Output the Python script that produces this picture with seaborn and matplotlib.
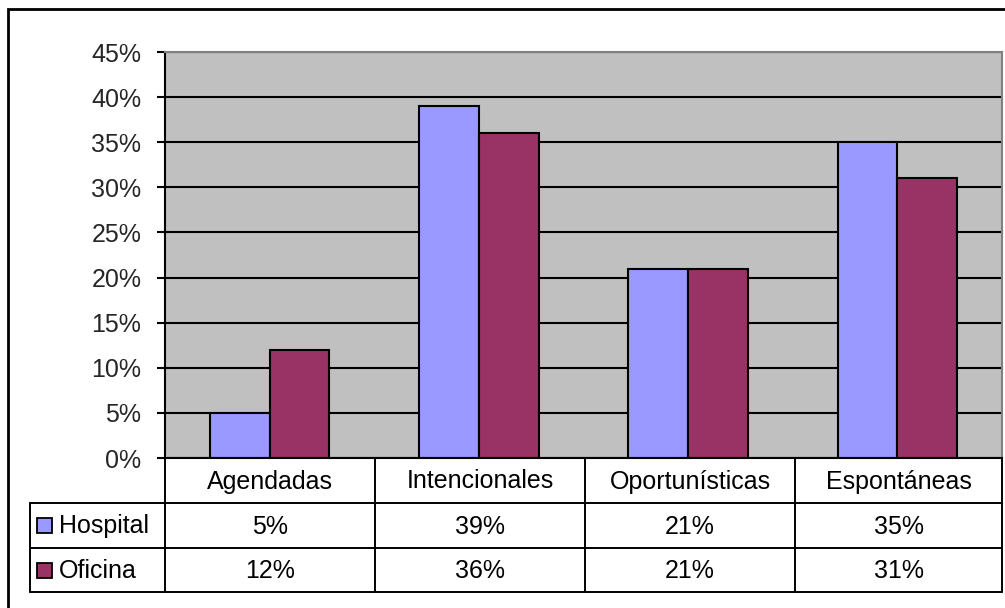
import matplotlib
matplotlib.use("Agg")
import matplotlib.pyplot as plt
import seaborn as sns
import pandas as pd
from matplotlib.lines import Line2D
from matplotlib.patches import Rectangle
from matplotlib.ticker import MultipleLocator, FuncFormatter

categories = ["Agendadas", "Intencionales", "Oportunísticas", "Espontáneas"]
series_names = ["Hospital", "Oficina"]
hospital = [5, 39, 21, 35]
oficina = [12, 36, 21, 31]
colors = ["#9999FF", "#993366"]

sns.set_theme(style="white")
plt.rcParams['font.family'] = ['Liberation Sans', 'DejaVu Sans']

rows = []
for c, h, o in zip(categories, hospital, oficina):
    rows.append({"cat": c, "serie": "Hospital", "val": h})
    rows.append({"cat": c, "serie": "Oficina", "val": o})
df = pd.DataFrame(rows)

W, H = 1005, 608
fig = plt.figure(figsize=(W / 100, H / 100), dpi=100)
fig.patch.set_facecolor("white")

def fx(px):
    return px / W

def fy(py):
    return 1 - py / H

L, R, T, B = 165, 1002, 52, 458
ax = fig.add_axes([fx(L), fy(B), fx(R) - fx(L), fy(T) - fy(B)])
ax.set_facecolor("#C0C0C0")
ax.set_axisbelow(True)

sns.barplot(data=df, x="cat", y="val", hue="serie", order=categories,
            hue_order=series_names, palette=colors, width=0.572,
            edgecolor="black", linewidth=1.5, ax=ax, legend=False, saturation=1)

ax.set_ylim(0, 45)
ax.set_xlim(-0.5, 3.5)
ax.yaxis.set_major_locator(MultipleLocator(5))
ax.yaxis.set_major_formatter(FuncFormatter(lambda v, p: f"{int(round(v))}%"))
ax.yaxis.grid(True, color="black", linewidth=1.5)
ax.xaxis.grid(False)
ax.set_xticks([])
ax.set_xlabel("")
ax.set_ylabel("")
ax.tick_params(axis="y", which="major", direction="out", length=6, width=1.5,
               color="black", labelsize=18, pad=11, left=True)
for s in ["left", "bottom"]:
    ax.spines[s].set_color("black")
    ax.spines[s].set_linewidth(1.5)
for s in ["top", "right"]:
    ax.spines[s].set_color("#808080")
    ax.spines[s].set_linewidth(1.5)

# Outer border (right and bottom sides fall outside the picture)
fig.add_artist(Rectangle((fx(8), fy(640)), fx(1040) - fx(8), fy(9) - fy(640),
                         transform=fig.transFigure, fill=False,
                         edgecolor="black", linewidth=2, clip_on=False))

# Data table
col_edges = [165, 375, 585, 795, 1002]
row_edges = [458, 503, 548, 592]
tleft = 30
lw = 1.4

def hline(x0, x1, y):
    fig.add_artist(Line2D([fx(x0), fx(x1)], [fy(y), fy(y)], transform=fig.transFigure,
                          color="black", linewidth=lw))

def vline(x, y0, y1):
    fig.add_artist(Line2D([fx(x), fx(x)], [fy(y0), fy(y1)], transform=fig.transFigure,
                          color="black", linewidth=lw))

hline(tleft, 1002, row_edges[1])
hline(tleft, 1002, row_edges[2])
hline(tleft, 1002, row_edges[3])
for x in col_edges:
    vline(x, row_edges[0], row_edges[3])
vline(tleft, row_edges[1], row_edges[3])

fs = 18
for i, c in enumerate(categories):
    xc = (col_edges[i] + col_edges[i + 1]) / 2
    fig.text(fx(xc), fy((row_edges[0] + row_edges[1]) / 2 + 1), c, ha="center",
             va="center", fontsize=fs, color="black")

series_vals = [hospital, oficina]
for r, (name, vals, col) in enumerate(zip(series_names, series_vals, colors)):
    yc = (row_edges[r + 1] + row_edges[r + 2]) / 2
    fig.add_artist(Rectangle((fx(37), fy(yc + 7.5)), fx(15), fy(0) - fy(15),
                             transform=fig.transFigure, facecolor=col,
                             edgecolor="black", linewidth=1.3))
    fig.text(fx(59), fy(yc + 1), name, ha="left", va="center", fontsize=fs, color="black")
    for i, v in enumerate(vals):
        xc = (col_edges[i] + col_edges[i + 1]) / 2
        fig.text(fx(xc), fy(yc + 1), f"{v}%", ha="center", va="center",
                 fontsize=fs, color="black")

fig.savefig("out.png", dpi=100, facecolor="white")
